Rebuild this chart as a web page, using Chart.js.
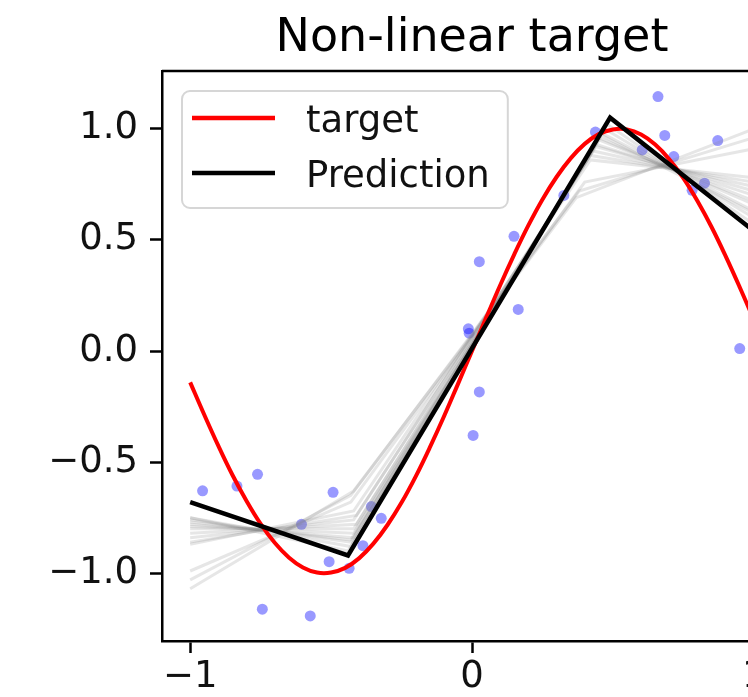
<!DOCTYPE html>
<html>
<head>
<meta charset="utf-8">
<script src="https://cdn.jsdelivr.net/npm/chart.js@4.4.1/dist/chart.umd.min.js"></script>
<style>
  html, body { margin: 0; padding: 0; background: #fff; overflow: hidden; width: 748px; height: 697px; }
  canvas { display: block; }
</style>
</head>
<body>
<canvas id="myChart" width="800" height="697"></canvas>
<script>
// tick labels
const xTicks = [-1, 0, 1];
const yTicks = [-1, -0.5, 0, 0.5, 1];
const titleText = 'Non-linear target';

// target curve
const targetX = [-1, -0.95, -0.9, -0.85, -0.8, -0.75, -0.7, -0.65, -0.6, -0.55, -0.5, -0.45, -0.4, -0.35, -0.3, -0.25, -0.2, -0.15, -0.1, -0.05,
    0, 0.05, 0.1, 0.15, 0.2, 0.25, 0.3, 0.35, 0.4, 0.45, 0.5, 0.55, 0.6, 0.65, 0.7, 0.75, 0.8, 0.85, 0.9, 0.95, 1];
const targetY = [-0.141, -0.287, -0.427, -0.558, -0.675, -0.778, -0.863, -0.929, -0.974, -0.997, -0.997, -0.976, -0.932, -0.867, -0.783, -0.682, -0.565, -0.435, -0.296, -0.149,
    0, 0.149, 0.296, 0.435, 0.565, 0.682, 0.783, 0.867, 0.932, 0.976, 0.997, 0.997, 0.974, 0.929, 0.863, 0.778, 0.675, 0.558, 0.427, 0.287, 0.141];

// prediction (black)
const predX = [-1, -0.44, 0.49, 1];
const predY = [-0.68, -0.92, 1.05, 0.54];

// bootstrap predictions (gray)
const bootX = [
    [-1, -0.43, 0.47, 1],
    [-1, -0.43, 0.46, 1],
    [-1, -0.42, 0.45, 1],
    [-1, -0.42, 0.45, 1],
    [-1, -0.42, 0.44, 1],
    [-1, -0.41, 0.44, 1],
    [-1, -0.42, 0.43, 1],
    [-1, -0.41, 0.42, 1],
    [-1, -0.42, 0.42, 1],
    [-1, -0.43, 0.40, 1],
    [-1, -0.43, 0.38, 1],
    [-1, -0.42, 0.37, 1],
    [-1, -0.44, 0.48, 1],
    [-1, -0.43, 0.46, 1]
];
const bootY = [
    [-0.75, -0.88, 1.00, 0.60],
    [-0.76, -0.86, 0.98, 0.63],
    [-0.78, -0.84, 0.96, 0.66],
    [-0.79, -0.82, 0.95, 0.675],
    [-0.80, -0.80, 0.93, 0.70],
    [-0.82, -0.78, 0.92, 0.72],
    [-0.84, -0.76, 0.90, 0.74],
    [-0.86, -0.74, 0.88, 0.76],
    [-0.87, -0.72, 0.86, 0.78],
    [-0.99, -0.68, 0.76, 0.91],
    [-1.03, -0.65, 0.72, 0.96],
    [-1.07, -0.63, 0.69, 1.00],
    [-0.75, -0.90, 1.02, 0.57],
    [-0.77, -0.85, 0.97, 0.62]
];

// noisy samples (blue dots)
const pointsX = [-0.956, -0.834, -0.761, -0.493, -0.605, -0.507, -0.436, -0.744, -0.574, -0.357, -0.322, -0.387,
    0.149, 0.026, 0.164, -0.013, -0.010, 0.026, 0.004, 0.950,
    0.66, 0.684, 0.872, 0.604, 0.716, 0.825, 0.781, 0.438, 0.326];
const pointsY = [-0.629, -0.608, -0.555, -0.636, -0.78, -0.948, -0.978, -1.162, -1.192, -0.70, -0.753, -0.876,
    0.516, 0.402, 0.187, 0.10, 0.08, -0.184, -0.38, 0.011,
    1.145, 0.97, 0.947, 0.905, 0.875, 0.755, 0.723, 0.985, 0.70];

const toXY = (xs, ys) => xs.map((x, i) => ({ x: x, y: ys[i] }));
const fmtMinus = s => s.replace('-', '\u2212');
const FONT = 'DejaVu Sans';

const datasets = [];
datasets.push({ label: 'Prediction', data: toXY(predX, predY), showLine: true, borderColor: '#000',
    borderWidth: 4.5, pointRadius: 0, order: 0 });
datasets.push({ label: 'target', data: toXY(targetX, targetY), showLine: true, borderColor: '#ff0000',
    borderWidth: 4, pointRadius: 0, tension: 0.4, order: 1 });
bootY.forEach((ys, i) => {
    datasets.push({ label: 'boot' + i, data: toXY(bootX[i], ys), showLine: true,
        borderColor: 'rgba(128,128,128,0.2)', borderWidth: 3, pointRadius: 0, order: 2 });
});
datasets.push({ label: 'samples', data: toXY(pointsX, pointsY), showLine: false,
    backgroundColor: 'rgba(0,0,255,0.4)', borderWidth: 0, pointRadius: 5.5, order: 3 });

// title over the axes, top/right spine and the framed legend inside the axes
const framePlugin = {
    id: 'frame',
    afterDraw(chart) {
        const ctx = chart.ctx, a = chart.chartArea;
        ctx.save();
        ctx.fillStyle = '#000';
        ctx.font = '46px "' + FONT + '"';
        ctx.textAlign = 'center';
        ctx.textBaseline = 'alphabetic';
        ctx.fillText(titleText, (a.left + a.right) / 2, 51);

        ctx.strokeStyle = '#000';
        ctx.lineWidth = 2.5;
        ctx.beginPath();
        ctx.moveTo(a.left, a.top);
        ctx.lineTo(a.right, a.top);
        ctx.lineTo(a.right, a.bottom);
        ctx.stroke();

        const items = [{ label: 'target', color: '#ff0000' }, { label: 'Prediction', color: '#000' }];
        ctx.font = '37px "' + FONT + '"';
        const maxW = Math.max(...items.map(it => ctx.measureText(it.label).width));
        const bx = a.left + 20, by = a.top + 20;
        const bw = 124 + maxW + 18, bh = 117;
        ctx.beginPath();
        ctx.roundRect(bx, by, bw, bh, 8);
        ctx.fillStyle = 'rgba(255,255,255,0.8)';
        ctx.fill();
        ctx.strokeStyle = '#d6d6d6';
        ctx.lineWidth = 2;
        ctx.stroke();
        items.forEach((it, i) => {
            const ly = by + 27 + i * 55;
            ctx.beginPath();
            ctx.moveTo(bx + 10, ly);
            ctx.lineTo(bx + 93, ly);
            ctx.strokeStyle = it.color;
            ctx.lineWidth = 4.5;
            ctx.stroke();
            ctx.fillStyle = '#111';
            ctx.textAlign = 'left';
            ctx.fillText(it.label, bx + 124, ly + 14);
        });
        ctx.restore();
    }
};

const config = {
    type: 'scatter',
    data: { datasets },
    options: {
        responsive: false,
        animation: false,
        devicePixelRatio: 1,
        layout: { padding: { left: 0, right: 18, top: 71, bottom: 0 } },
        plugins: {
            legend: { display: false },
            tooltip: { enabled: false },
            title: { display: false }
        },
        scales: {
            x: {
                type: 'linear',
                min: -1.1,
                max: 1.1,
                afterBuildTicks: s => { s.ticks = xTicks.map(v => ({ value: v })); },
                afterFit: s => { s.height = 56; },
                grid: { drawOnChartArea: false, tickLength: 12, tickWidth: 2.5, tickColor: '#000' },
                border: { color: '#000', width: 2.5 },
                ticks: {
                    padding: 2, color: '#111', maxRotation: 0, autoSkip: false,
                    font: { family: FONT, size: 37 },
                    callback: v => fmtMinus(String(v))
                }
            },
            y: {
                type: 'linear',
                min: -1.305,
                max: 1.26,
                afterBuildTicks: s => { s.ticks = yTicks.map(v => ({ value: v })); },
                afterFit: s => { s.width = 162; },
                grid: { drawOnChartArea: false, tickLength: 12, tickWidth: 2.5, tickColor: '#000' },
                border: { color: '#000', width: 2.5 },
                ticks: {
                    padding: 12, color: '#111', autoSkip: false,
                    font: { family: FONT, size: 37 },
                    callback: v => fmtMinus(v.toFixed(1))
                }
            }
        }
    },
    plugins: [framePlugin]
};

const myChart = new Chart(document.getElementById('myChart').getContext('2d'), config);
</script>
</body>
</html>
